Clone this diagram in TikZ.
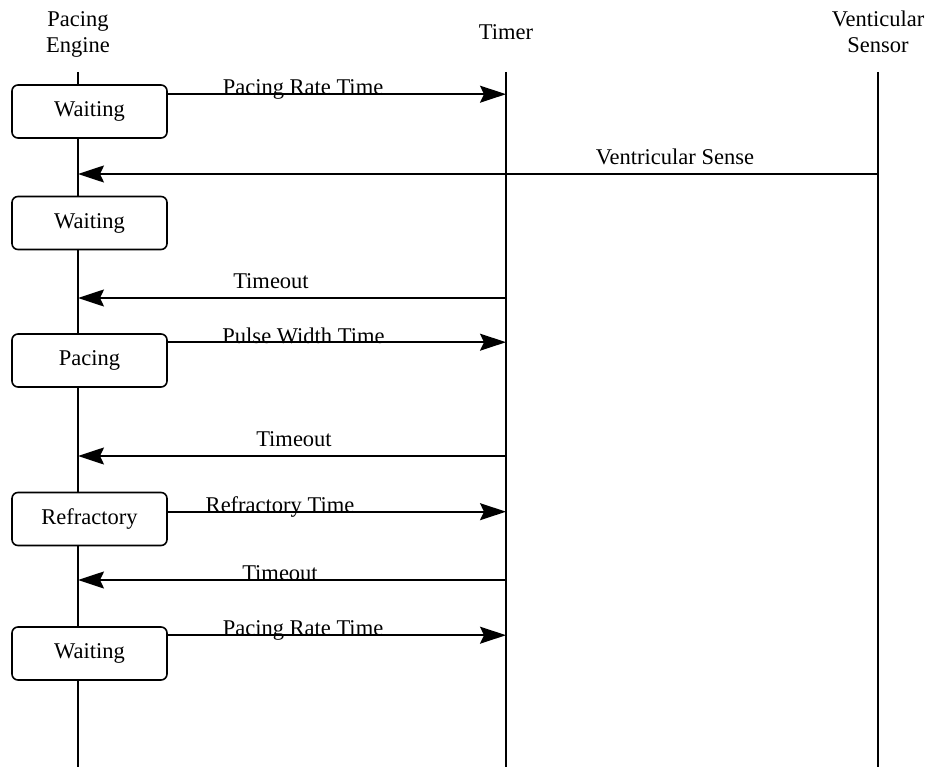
\documentclass[tikz,border=0pt]{standalone}
\usepackage{fontspec}
\setmainfont{Liberation Serif}
\usetikzlibrary{arrows.meta}
\begin{document}
\begin{tikzpicture}[x=1pt,y=-1pt,
  font=\fontsize{22.5}{26.6}\selectfont,
  life/.style={line width=1.6pt},
  statebox/.style={draw,line width=1.6pt,rounded corners=6pt,fill=white,
    minimum width=155pt,minimum height=53pt,inner sep=0pt},
  msg/.style={line width=1.6pt,-{Stealth[length=26pt,width=17pt,inset=4pt]}},
  lbl/.style={anchor=base,inner sep=0pt},
  head/.style={align=center,inner sep=0pt,anchor=base}]
\useasboundingbox (0,0) rectangle (928,767);
% headers
\node[head] (hpe) at (78,53) {Pacing\\Engine};
\node[head] (htm) at (506,40) {Timer};
\node[head] (hvs) at (878,53) {Venticular\\Sensor};
% lifelines
\coordinate (peT) at (78,72);  \coordinate (peB) at (78,767);
\coordinate (tmT) at (506,72); \coordinate (tmB) at (506,767);
\coordinate (vsT) at (878,72); \coordinate (vsB) at (878,767);
\draw[life] (peT) -- (peB);
\draw[life] (tmT) -- (tmB);
\draw[life] (vsT) -- (vsB);
% state boxes
\node[statebox] (w1) at (89.5,111.5) {Waiting};
\node[statebox] (w2) at (89.5,223) {Waiting};
\node[statebox] (pa) at (89.5,360.5) {Pacing};
\node[statebox] (rf) at (89.5,519) {Refractory};
\node[statebox] (w3) at (89.5,653.5) {Waiting};
% messages to timer
\draw[msg] ([yshift=-10pt]w1.north east) -- ([yshift=-10pt]w1.north east -| tmT);
\draw[msg] ([yshift=-9pt]pa.north east) -- ([yshift=-9pt]pa.north east -| tmT);
\draw[msg] ([yshift=-20pt]rf.north east) -- ([yshift=-20pt]rf.north east -| tmT);
\draw[msg] ([yshift=-9pt]w3.north east) -- ([yshift=-9pt]w3.north east -| tmT);
% returns
\coordinate (vsA) at (878,174); \coordinate (peA) at (78,174);
\coordinate (tmB1) at (506,298); \coordinate (peB1) at (78,298);
\coordinate (tmB2) at (506,456); \coordinate (peB2) at (78,456);
\coordinate (tmB3) at (506,580); \coordinate (peB3) at (78,580);
\draw[msg] (vsA) -- (peA);
\draw[msg] (tmB1) -- (peB1);
\draw[msg] (tmB2) -- (peB2);
\draw[msg] (tmB3) -- (peB3);
% labels
\node[lbl] (l1) at (303,95) {Pacing Rate Time};
\node[lbl] (l2) at (675,165) {Ventricular Sense};
\node[lbl] (l3) at (271,288) {Timeout};
\node[lbl] (l4) at (303.5,343) {Pulse Width Time};
\node[lbl] (l5) at (294,446) {Timeout};
\node[lbl] (l6) at (280,512) {Refractory Time};
\node[lbl] (l7) at (280,580) {Timeout};
\node[lbl] (l8) at (303,635) {Pacing Rate Time};
\end{tikzpicture}
\end{document}
